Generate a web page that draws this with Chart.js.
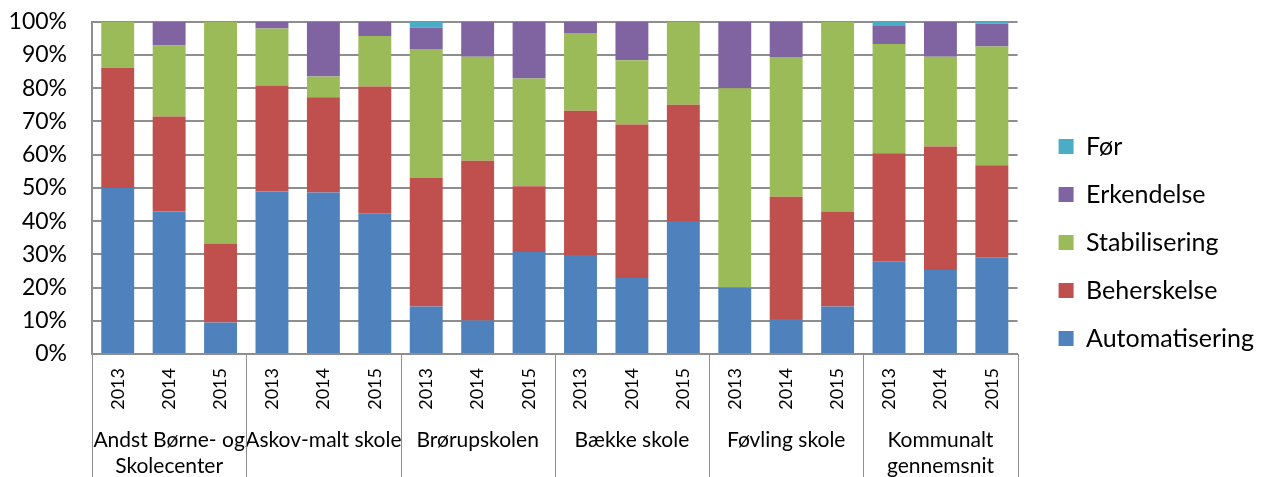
<!DOCTYPE html>
<html>
<head>
<meta charset="utf-8">
<script src="https://cdn.jsdelivr.net/npm/chart.js@4"></script>
<style>
  html, body { margin: 0; padding: 0; background: #fff; }
  #wrap { width: 1262px; height: 477px; }
</style>
</head>
<body>
<div id="wrap"><canvas id="chart" width="1262" height="477"></canvas></div>
<script>
const years = ['2013', '2014', '2015'];
const schools = [
    ['Andst Børne- og', 'Skolecenter'],
    'Askov-malt skole',
    'Brørupskolen',
    'Bække skole',
    'Føvling skole',
    ['Kommunalt', 'gennemsnit']
];

// percentages per bar, 3 years for each school
const automatisering = [50, 42.9, 9.5, 48.9, 48.6, 42.4, 14.3, 10.1, 30.7, 29.8, 22.9, 40, 20, 10.5, 14.3, 27.9, 25.3, 29];
const beherskelse   = [36.2, 28.6, 23.8, 31.9, 28.7, 38.1, 38.7, 48.1, 19.8, 43.4, 46.2, 35, 0, 36.8, 28.6, 32.5, 37.2, 27.8];
const stabilisering = [13.8, 21.4, 66.7, 17.2, 6.2, 15.2, 38.8, 31.3, 32.4, 23.4, 19.3, 25, 60, 42.1, 57.1, 32.9, 27.0, 35.8];
const erkendelse    = [0, 7.1, 0, 2.0, 16.5, 4.3, 6.4, 10.5, 17.1, 3.4, 11.6, 0, 20, 10.6, 0, 5.4, 10.5, 6.9];
const foer          = [0, 0, 0, 0, 0, 0, 1.8, 0, 0, 0, 0, 0, 0, 0, 0, 1.3, 0, 0.5];

const yTicks = [0, 10, 20, 30, 40, 50, 60, 70, 80, 90, 100];

const categories = [];
schools.forEach(() => years.forEach(y => categories.push(y)));

const gridGray = '#8e8e8e';

Chart.defaults.font.family = 'Lato';
Chart.defaults.color = '#000';

// vertical separators between the school groups, below the plot
const groupLines = {
    id: 'groupLines',
    afterDraw(chart) {
        const x = chart.scales.x;
        const ctx = chart.ctx;
        ctx.save();
        ctx.strokeStyle = gridGray;
        ctx.lineWidth = 1;
        for (let k = 0; k <= schools.length; k++) {
            const px = Math.round(x.getPixelForDecimal(k / schools.length)) + 0.5;
            ctx.beginPath();
            ctx.moveTo(px, chart.chartArea.bottom);
            ctx.lineTo(px, chart.height);
            ctx.stroke();
        }
        ctx.restore();
    }
};

// leave a wider gap between plot and legend, like the original
const legendShift = {
    id: 'legendShift',
    afterLayout(chart) {
        if (chart.legend) {
            chart.legend.left += 18;
            chart.legend.right += 18;
        }
    }
};

function drawChart() {
    const ctx = document.getElementById('chart').getContext('2d');
    new Chart(ctx, {
        type: 'bar',
        data: {
            labels: categories,
            datasets: [
                { label: 'Automatisering', data: automatisering, backgroundColor: '#4F81BD' },
                { label: 'Beherskelse', data: beherskelse, backgroundColor: '#C0504D' },
                { label: 'Stabilisering', data: stabilisering, backgroundColor: '#9BBB59' },
                { label: 'Erkendelse', data: erkendelse, backgroundColor: '#8064A2' },
                { label: 'Før', data: foer, backgroundColor: '#4BACC6' }
            ]
        },
        options: {
            responsive: false,
            animation: false,
            datasets: {
                bar: { barPercentage: 0.64, categoryPercentage: 1, borderWidth: 0 }
            },
            layout: { padding: { top: 8, right: 16, bottom: 0, left: 0 } },
            scales: {
                x: {
                    stacked: true,
                    grid: { display: false, drawTicks: false },
                    border: { display: true, color: gridGray, width: 2 },
                    ticks: {
                        font: { size: 18 },
                        minRotation: 90,
                        maxRotation: 90,
                        autoSkip: false,
                        padding: 14
                    },
                    afterFit(scale) { scale.height = 56; }
                },
                x2: {
                    type: 'category',
                    labels: schools,
                    position: 'bottom',
                    grid: { display: false, drawTicks: false },
                    border: { display: false },
                    ticks: {
                        font: { size: 21 },
                        maxRotation: 0,
                        autoSkip: false,
                        padding: 18
                    },
                    afterFit(scale) { scale.height = 67; }
                },
                y: {
                    stacked: true,
                    min: 0,
                    max: 100,
                    afterBuildTicks(scale) { scale.ticks = yTicks.map(v => ({ value: v })); },
                    grid: {
                        color: gridGray,
                        lineWidth: 2,
                        drawTicks: true,
                        tickLength: 17,
                        tickColor: 'rgba(0,0,0,0)'
                    },
                    border: { display: true, color: gridGray, width: 2 },
                    ticks: {
                        font: { size: 23 },
                        padding: 8,
                        callback: (v) => v + '%'
                    },
                    afterFit(scale) { scale.width = 92; }
                }
            },
            plugins: {
                legend: {
                    position: 'right',
                    reverse: true,
                    labels: {
                        boxWidth: 15,
                        boxHeight: 15,
                        padding: 23,
                        font: { size: 25 },
                        color: '#000'
                    }
                },
                tooltip: { enabled: false }
            }
        },
        plugins: [groupLines, legendShift]
    });
}

// make sure Lato is ready before Chart.js measures any text
Promise.all(['18px Lato', '21px Lato', '23px Lato', '25px Lato'].map(f => document.fonts.load(f)))
    .then(drawChart, drawChart);
</script>
</body>
</html>
